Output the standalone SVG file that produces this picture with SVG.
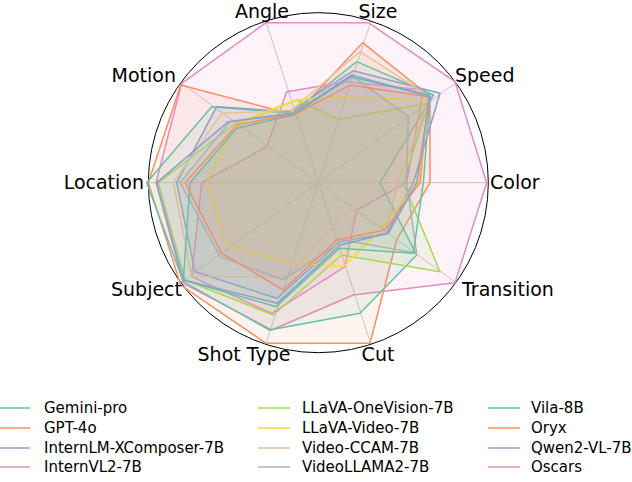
<svg xmlns="http://www.w3.org/2000/svg" width="632" height="482" viewBox="0 0 632 482">
<style>
.g{fill:none;stroke:#c8c8c8;stroke-width:1}
.s{stroke-width:1.5;vector-effect:non-scaling-stroke;fill-opacity:0.1;stroke-linejoin:round}
.l{font-family:"DejaVu Sans",sans-serif;font-size:19px;fill:#000}
.t{font-family:"DejaVu Sans",sans-serif;font-size:15px;fill:#000}
.k{stroke-width:1.5}
</style>
<rect width="632" height="482" fill="#fff"/>
<g id="grid" transform="translate(140,0) scale(0.33333)">
<path class="g" vector-effect="non-scaling-stroke" d="M535 548L1045 548M535 548L948 248M535 548L693 63M535 548L377 63M535 548L122 248M535 548L25 548M535 548L122 848M535 548L377 1033M535 548L693 1033M535 548L948 848"/>
<circle cx="535" cy="548" r="510" fill="none" stroke="#000" stroke-width="1" vector-effect="non-scaling-stroke"/>
</g>
<g id="connectors" transform="translate(140,0) scale(0.33333)">
<polygon id="oscars" class="s" stroke="#e78ac3" fill="#e78ac3" points="1040,548 945,245 685,68 378,68 125,250 48,548 130,850 395,990 640,885 945,848"/>
<polygon id="gpt4o" class="s" stroke="#fc8d62" fill="#fc8d62" points="870,548 870,290 668,128 465,345 122,255 25,548 122,855 378,1030 690,1030 770,720"/>
<polygon id="gemini" class="s" stroke="#66c2a5" fill="#66c2a5" points="720,548 880,285 650,185 455,340 215,320 20,548 130,845 388,990 660,940 830,765"/>
<polygon id="internlm" class="s" stroke="#8da0cb" fill="#8da0cb" points="820,548 900,280 640,212 450,335 230,320 110,548 165,815 410,895 600,725 740,700"/>
<polygon id="internvl" class="s" stroke="#e78ac3" fill="#e78ac3" points="800,548 850,270 620,245 440,275 380,440 185,548 155,830 395,940 615,800 650,630"/>
<polygon id="llavaov" class="s" stroke="#a6d854" fill="#a6d854" points="790,548 865,310 595,358 470,300 280,375 55,548 135,840 400,945 605,765 900,815"/>
<polygon id="llavavideo" class="s" stroke="#ffd92f" fill="#ffd92f" points="835,548 865,300 600,290 470,300 285,370 200,548 260,740 460,790 610,800 720,690"/>
<polygon id="ccam" class="s" stroke="#e5c494" fill="#e5c494" points="775,548 870,290 660,155 455,330 245,340 100,548 155,830 440,830 630,625 735,690"/>
<polygon id="videollama" class="s" stroke="#b3b3b3" fill="#b3b3b3" points="800,548 805,350 640,230 460,340 270,365 120,548 240,770 430,840 610,720 830,760"/>
<polygon id="vila" class="s" stroke="#66c2a5" fill="#66c2a5" points="850,548 870,285 630,230 460,345 290,385 150,548 130,840 408,920 598,745 820,760"/>
<polygon id="oryx" class="s" stroke="#fc8d62" fill="#fc8d62" points="840,548 865,290 630,255 470,340 290,375 135,548 245,760 430,870 590,720 735,690"/>
<polygon id="qwen" class="s" stroke="#8da0cb" fill="#8da0cb" points="830,548 870,290 635,225 460,340 265,365 50,548 130,840 412,910 600,735 745,700"/>
</g>
<g id="labels">
<text class="l" x="262" y="18" text-anchor="middle">Angle</text>
<text class="l" x="378" y="18" text-anchor="middle">Size</text>
<text class="l" x="455" y="82">Speed</text>
<text class="l" x="490" y="189">Color</text>
<text class="l" x="462" y="296">Transition</text>
<text class="l" x="378" y="361" text-anchor="middle">Cut</text>
<text class="l" x="244" y="361" text-anchor="middle">Shot Type</text>
<text class="l" x="182" y="296" text-anchor="end">Subject</text>
<text class="l" x="144" y="189" text-anchor="end">Location</text>
<text class="l" x="176" y="82" text-anchor="end">Motion</text>
</g>
<g id="legend">
<line class="k" x1="0" y1="408" x2="30" y2="408" stroke="#66c2a5"/><text class="t" x="44" y="413">Gemini-pro</text>
<line class="k" x1="0" y1="428" x2="30" y2="428" stroke="#fc8d62"/><text class="t" x="44" y="433">GPT-4o</text>
<line class="k" x1="0" y1="448" x2="30" y2="448" stroke="#8da0cb"/><text class="t" x="44" y="453">InternLM-XComposer-7B</text>
<line class="k" x1="0" y1="467" x2="30" y2="467" stroke="#e78ac3"/><text class="t" x="44" y="472">InternVL2-7B</text>
<line class="k" x1="258" y1="408" x2="290" y2="408" stroke="#a6d854"/><text class="t" x="302" y="413">LLaVA-OneVision-7B</text>
<line class="k" x1="258" y1="428" x2="290" y2="428" stroke="#ffd92f"/><text class="t" x="302" y="433">LLaVA-Video-7B</text>
<line class="k" x1="258" y1="448" x2="290" y2="448" stroke="#e5c494"/><text class="t" x="302" y="453">Video-CCAM-7B</text>
<line class="k" x1="258" y1="467" x2="290" y2="467" stroke="#b3b3b3"/><text class="t" x="302" y="472">VideoLLAMA2-7B</text>
<line class="k" x1="488" y1="408" x2="520" y2="408" stroke="#66c2a5"/><text class="t" x="531" y="413">Vila-8B</text>
<line class="k" x1="488" y1="428" x2="520" y2="428" stroke="#fc8d62"/><text class="t" x="531" y="433">Oryx</text>
<line class="k" x1="488" y1="448" x2="520" y2="448" stroke="#8da0cb"/><text class="t" x="531" y="453">Qwen2-VL-7B</text>
<line class="k" x1="488" y1="467" x2="520" y2="467" stroke="#e78ac3"/><text class="t" x="531" y="472">Oscars</text>
</g>
</svg>
